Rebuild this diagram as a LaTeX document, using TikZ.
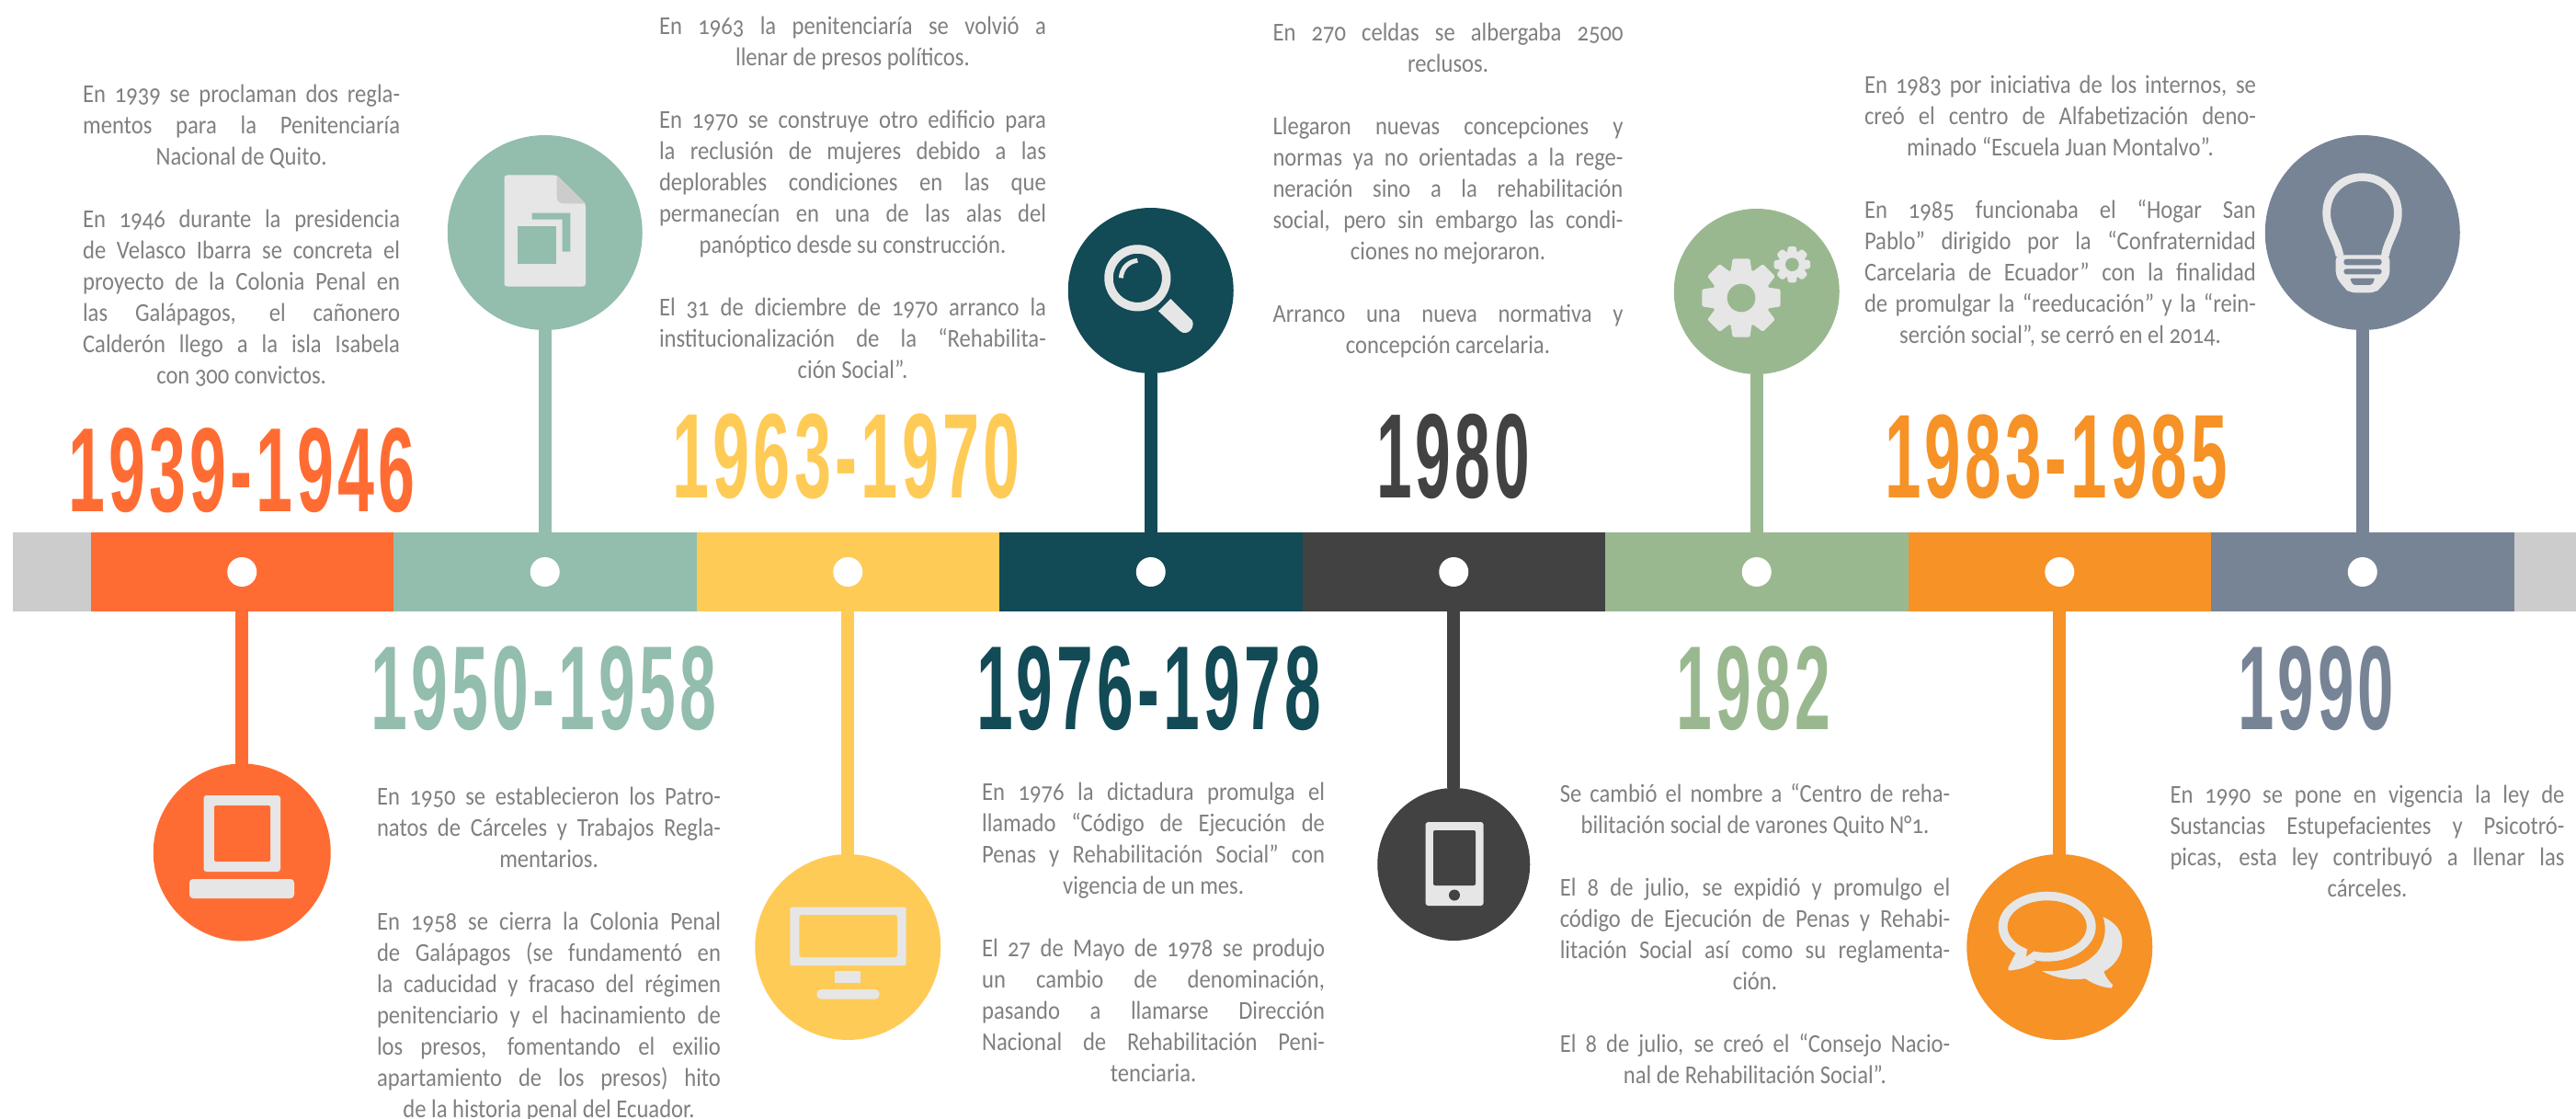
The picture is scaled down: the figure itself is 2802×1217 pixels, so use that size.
\documentclass[tikz,border=0pt]{standalone}
\usepackage{fontspec}
\newfontfamily\bodyf[FakeStretch=0.88,Numbers=OldStyle]{Carlito}
\newfontfamily\yearf[LetterSpace=6]{Liberation Sans}
\definecolor{cA}{HTML}{FF6C33}
\definecolor{cB}{HTML}{93BDAD}
\definecolor{cC}{HTML}{FFCB57}
\definecolor{cD}{HTML}{124A56}
\definecolor{cE}{HTML}{424242}
\definecolor{cF}{HTML}{9AB88F}
\definecolor{cG}{HTML}{F69226}
\definecolor{cH}{HTML}{778496}
\definecolor{cEnd}{HTML}{CCCCCC}
\definecolor{cIcon}{HTML}{E6E6E6}
\definecolor{cText}{HTML}{808080}
\tikzset{
  seg/.style={rectangle,minimum width=329.5pt,minimum height=86pt,inner sep=0pt,outer sep=0pt},
  disc/.style={circle,inner sep=0pt,outer sep=0pt,minimum size=#1},
  dot/.style={circle,fill=white,inner sep=0pt,outer sep=0pt,minimum size=32pt},
  stem/.style={line width=14pt,line cap=butt},
  bodytext/.style={inner sep=0pt,outer sep=0pt,align=center,text=cText,font=\bodyf\fontsize{28}{34}\selectfont},
  yeartext/.style={inner sep=0pt,outer sep=0pt,anchor=south west},
  icon/.style={fill=cIcon,draw=none},
}
\newcommand\jl[1]{\sbox0{#1}\ifdim\wd0>\colw\relax\resizebox{\colw}{\height}{#1}\else\makebox[\colw][s]{\spaceskip=.2em plus 1em minus .02em\relax\xspaceskip=\spaceskip #1}\fi}
\newcommand\txtblock[5]{\node[bodytext,text width=#4pt,anchor=north] (#1) at (#2,#3-25) {\def\colw{#4pt}\spaceskip=.2em\relax\xspaceskip=.2em\relax\rule{0pt}{25pt}#5};}
\newcommand\yearnode[7]{\node[yeartext,text=#2] (#1) at (#3,#4) {\resizebox*{#5pt}{#6pt}{\yearf\bfseries #7}};}
\newcommand\gear[5]{% cx cy outer root hole, colour via bg
  \fill[icon] (#1,#2) circle[radius=#4];
  \foreach \a in {0,45,...,315}{
    \fill[icon,rounded corners=1.5pt,rotate around={\a:(#1,#2)}]
      ($(#1,#2)+(-0.36*#4,-#4+0.12*#4)$) -- ($(#1,#2)+(-0.22*#3,-#3)$) -- ($(#1,#2)+(0.22*#3,-#3)$) -- ($(#1,#2)+(0.36*#4,-#4+0.12*#4)$) -- cycle;
  }
}
\usetikzlibrary{calc}
\begin{document}
\begin{tikzpicture}[x=1pt,y=-1pt]
\useasboundingbox (0,0) rectangle (2802,1217);
\fill[white] (0,0) rectangle (2802,1217);
% bar
\fill[cEnd] (14,579) rectangle (100,665);
\fill[cEnd] (2733,579) rectangle (2802,665);
\node[seg,fill=cA] (s1) at (263.25,622) {};
\node[seg,fill=cB] (s2) at (592.75,622) {};
\node[seg,fill=cC] (s3) at (922.25,622) {};
\node[seg,fill=cD] (s4) at (1251.75,622) {};
\node[seg,fill=cE] (s5) at (1581.25,622) {};
\node[seg,fill=cF] (s6) at (1910.75,622) {};
\node[seg,fill=cG] (s7) at (2240.25,622) {};
\node[seg,fill=cH] (s8) at (2569.75,622) {};
% discs
\node[disc=193pt,fill=cA] (c1) at (263.25,927) {};
\node[disc=212pt,fill=cB] (c2) at (592.75,253) {};
\node[disc=202pt,fill=cC] (c3) at (922.25,1030) {};
\node[disc=180pt,fill=cD] (c4) at (1251.75,316) {};
\node[disc=166pt,fill=cE] (c5) at (1581.25,940) {};
\node[disc=180pt,fill=cF] (c6) at (1910.75,317) {};
\node[disc=202pt,fill=cG] (c7) at (2240.25,1030) {};
\node[disc=212pt,fill=cH] (c8) at (2569.75,253) {};
% connectors
\draw[stem,cA] (s1) -- (c1);
\draw[stem,cB] (s2) -- (c2);
\draw[stem,cC] (s3) -- (c3);
\draw[stem,cD] (s4) -- (c4);
\draw[stem,cE] (s5) -- (c5);
\draw[stem,cF] (s6) -- (c6);
\draw[stem,cG] (s7) -- (c7);
\draw[stem,cH] (s8) -- (c8);
% dots
\node[dot] (d1) at (s1) {};
\node[dot] (d2) at (s2) {};
\node[dot] (d3) at (s3) {};
\node[dot] (d4) at (s4) {};
\node[dot] (d5) at (s5) {};
\node[dot] (d6) at (s6) {};
\node[dot] (d7) at (s7) {};
\node[dot] (d8) at (s8) {};
% icon 1 laptop
\fill[icon,rounded corners=3pt] (221.5,865) rectangle (305,948);
\fill[cA,rounded corners=2pt] (233,876) rectangle (294,937);
\fill[icon,rounded corners=4pt] (206,956) rectangle (320,977);
% icon 2 document
\fill[icon,rounded corners=3pt] (548.5,190.5) -- (605.6,190.5) -- (637,221.5) -- (637,311.5) -- (548.5,311.5) -- cycle;
\fill[cEnd] (605.6,190.5) -- (637,221.5) -- (614,221.5) .. controls (608,221.5) and (605.6,218) .. (605.6,213) -- cycle;
\fill[cB] (563,246) rectangle (605,287);
\fill[cB] (578.6,231.5) -- (620.4,231.5) -- (620.4,273.5) -- (611.5,273.5) -- (611.5,238.5) -- (578.6,238.5) -- cycle;
% icon 3 monitor
\fill[icon,rounded corners=2pt] (859.3,986.7) rectangle (985.7,1050);
\fill[cC,rounded corners=3pt] (869.3,995) rectangle (976,1041);
\fill[icon] (908.3,1056) rectangle (936.3,1069.3);
\fill[icon,rounded corners=5pt] (888.3,1076) rectangle (956.7,1086.7);
% icon 4 magnifier
\begin{scope}[shift={(1180,250)},x=0.33333pt,y=-0.33333pt]
\draw[cIcon,line width=9.5pt] (172,157) circle[radius=94];
\draw[cIcon,line width=5pt] (118,157) .. controls (120,125) and (142,103) .. (172,100);
\fill[icon] (240,265) -- (280,225) -- (350,295) .. controls (362,318) and (335,350) .. (310,330) -- cycle;
\end{scope}
% icon 5 phone
\fill[icon,rounded corners=3pt] (1550.6,894) rectangle (1613.6,985);
\fill[cE,rounded corners=2pt] (1559,903) rectangle (1605,963);
\fill[cE] (1582,973.5) circle[radius=6];
% icon 6 gears
\begin{scope}[shift={(1840,255)},x=0.33333pt,y=-0.33333pt]
\gear{162}{207}{128}{96}{46}
\fill[cF] (162,207) circle[radius=46];
\gear{328}{98}{59}{45}{22}
\fill[cF] (328,98) circle[radius=22];
\end{scope}
% icon 7 chat
\begin{scope}[shift={(2135,925)},x=0.33333pt,y=-0.33333pt]
\fill[icon] (275,248) circle[x radius=159,y radius=114];
\fill[icon,rounded corners=1pt] (172,335) -- (147,385) -- (150,392) .. controls (190,388) and (215,378) .. (240,362) -- cycle;
\fill[cG] (275,248) circle[x radius=129,y radius=85];
\fill[cG] (210,322) -- (207,346) -- (232,328) -- cycle;
\fill[icon] (458,217) .. controls (500,235) and (522,265) .. (520,305) .. controls (518,345) and (495,375) .. (460,395) .. controls (466,415) and (480,428) .. (490,440) -- (484,449) .. controls (450,445) and (425,435) .. (400,418) .. controls (345,425) and (300,415) .. (258,393) .. controls (340,397) and (400,375) .. (440,330) .. controls (465,295) and (470,255) .. (458,217) -- cycle;
\end{scope}
% icon 8 bulb
\begin{scope}[shift={(2500,170)},x=0.33333pt,y=-0.33333pt]
\draw[cIcon,line width=8.7pt] (135,325) .. controls (125,270) and (92,240) .. (92,185) .. controls (92,115) and (145,68) .. (208,68) .. controls (272,68) and (325,115) .. (325,185) .. controls (325,240) and (292,270) .. (283,325);
\fill[icon,rounded corners=6pt] (122,322) -- (298,322) -- (298,392) -- (268,430) -- (250,445) -- (168,445) -- (150,430) -- (122,392) -- cycle;
\fill[cH,rounded corners=3pt] (148,335) rectangle (272,355);
\fill[cH,rounded corners=3pt] (148,367) rectangle (272,385);
\fill[cH,rounded corners=2pt] (168,398) -- (250,398) -- (240,420) -- (178,420) -- cycle;
\end{scope}
% years
\yearnode{y1}{cA}{74}{557.5}{377.5}{92.5}{1939-1946}
\yearnode{y2}{cB}{403.6}{795}{376}{92}{1950-1958}
\yearnode{y3}{cC}{731}{543}{379}{93}{1963-1970}
\yearnode{y4}{cD}{1062}{795}{375}{92}{1976-1978}
\yearnode{y5}{cE}{1497}{543}{167}{92.5}{1980}
\yearnode{y6}{cF}{1823.5}{795}{167.5}{92}{1982}
\yearnode{y7}{cG}{2050}{543}{373}{92}{1983-1985}
\yearnode{y8}{cH}{2434}{795}{170}{92}{1990}
% texts
\txtblock{b1}{262.6}{112}{345}{\jl{En 1939 se proclaman dos regla-}\\\jl{mentos para la Penitenciaría}\\Nacional de Quito.\\[34pt]\jl{En 1946 durante la presidencia}\\\jl{de Velasco Ibarra se concreta el}\\\jl{proyecto de la Colonia Penal en}\\\jl{las Galápagos, el cañonero}\\\jl{Calderón llego a la isla Isabela}\\con 300 convictos.}
\txtblock{b2}{597}{875}{374}{\jl{En 1950 se establecieron los Patro-}\\\jl{natos de Cárceles y Trabajos Regla-}\\mentarios.\\[34pt]\jl{En 1958 se cierra la Colonia Penal}\\\jl{de Galápagos (se fundamentó en}\\\jl{la caducidad y fracaso del régimen}\\\jl{penitenciario y el hacinamiento de}\\\jl{los presos, fomentando el exilio}\\\jl{apartamiento de los presos) hito}\\de la historia penal del Ecuador.}
\txtblock{b3}{927.5}{38}{421}{\jl{En 1963 la penitenciaría se volvió a}\\llenar de presos políticos.\\[34pt]\jl{En 1970 se construye otro edificio para}\\\jl{la reclusión de mujeres debido a las}\\\jl{deplorables condiciones en las que}\\\jl{permanecían en una de las alas del}\\panóptico desde su construcción.\\[34pt]\jl{El 31 de diciembre de 1970 arranco la}\\\jl{institucionalización de la “Rehabilita-}\\ción Social”.}
\txtblock{b4}{1254.6}{870}{373}{\jl{En 1976 la dictadura promulga el}\\\jl{llamado “Código de Ejecución de}\\\jl{Penas y Rehabilitación Social” con}\\vigencia de un mes.\\[34pt]\jl{El 27 de Mayo de 1978 se produjo}\\\jl{un cambio de denominación,}\\\jl{pasando a llamarse Dirección}\\\jl{Nacional de Rehabilitación Peni-}\\tenciaria.}
\txtblock{b5}{1575}{45}{381}{\jl{En 270 celdas se albergaba 2500}\\reclusos.\\[34pt]\jl{Llegaron nuevas concepciones y}\\\jl{normas ya no orientadas a la rege-}\\\jl{neración sino a la rehabilitación}\\\jl{social, pero sin embargo las condi-}\\ciones no mejoraron.\\[34pt]\jl{Arranco una nueva normativa y}\\concepción carcelaria.}
\txtblock{b6}{1909}{872}{424.5}{\jl{Se cambió el nombre a “Centro de reha-}\\bilitación social de varones Quito N°1.\\[34pt]\jl{El 8 de julio, se expidió y promulgo el}\\\jl{código de Ejecución de Penas y Rehabi-}\\\jl{litación Social así como su reglamenta-}\\ción.\\[34pt]\jl{El 8 de julio, se creó el “Consejo Nacio-}\\nal de Rehabilitación Social”.}
\txtblock{b7}{2241}{102}{426}{\jl{En 1983 por iniciativa de los internos, se}\\\jl{creó el centro de Alfabetización deno-}\\minado “Escuela Juan Montalvo”.\\[34pt]\jl{En 1985 funcionaba el “Hogar San}\\\jl{Pablo” dirigido por la “Confraternidad}\\\jl{Carcelaria de Ecuador” con la finalidad}\\\jl{de promulgar la “reeducación” y la “rein-}\\serción social”, se cerró en el 2014.}
\txtblock{b8}{2575}{873}{429}{\jl{En 1990 se pone en vigencia la ley de}\\\jl{Sustancias Estupefacientes y Psicotró-}\\\jl{picas, esta ley contribuyó a llenar las}\\cárceles.}
\end{tikzpicture}
\end{document}
